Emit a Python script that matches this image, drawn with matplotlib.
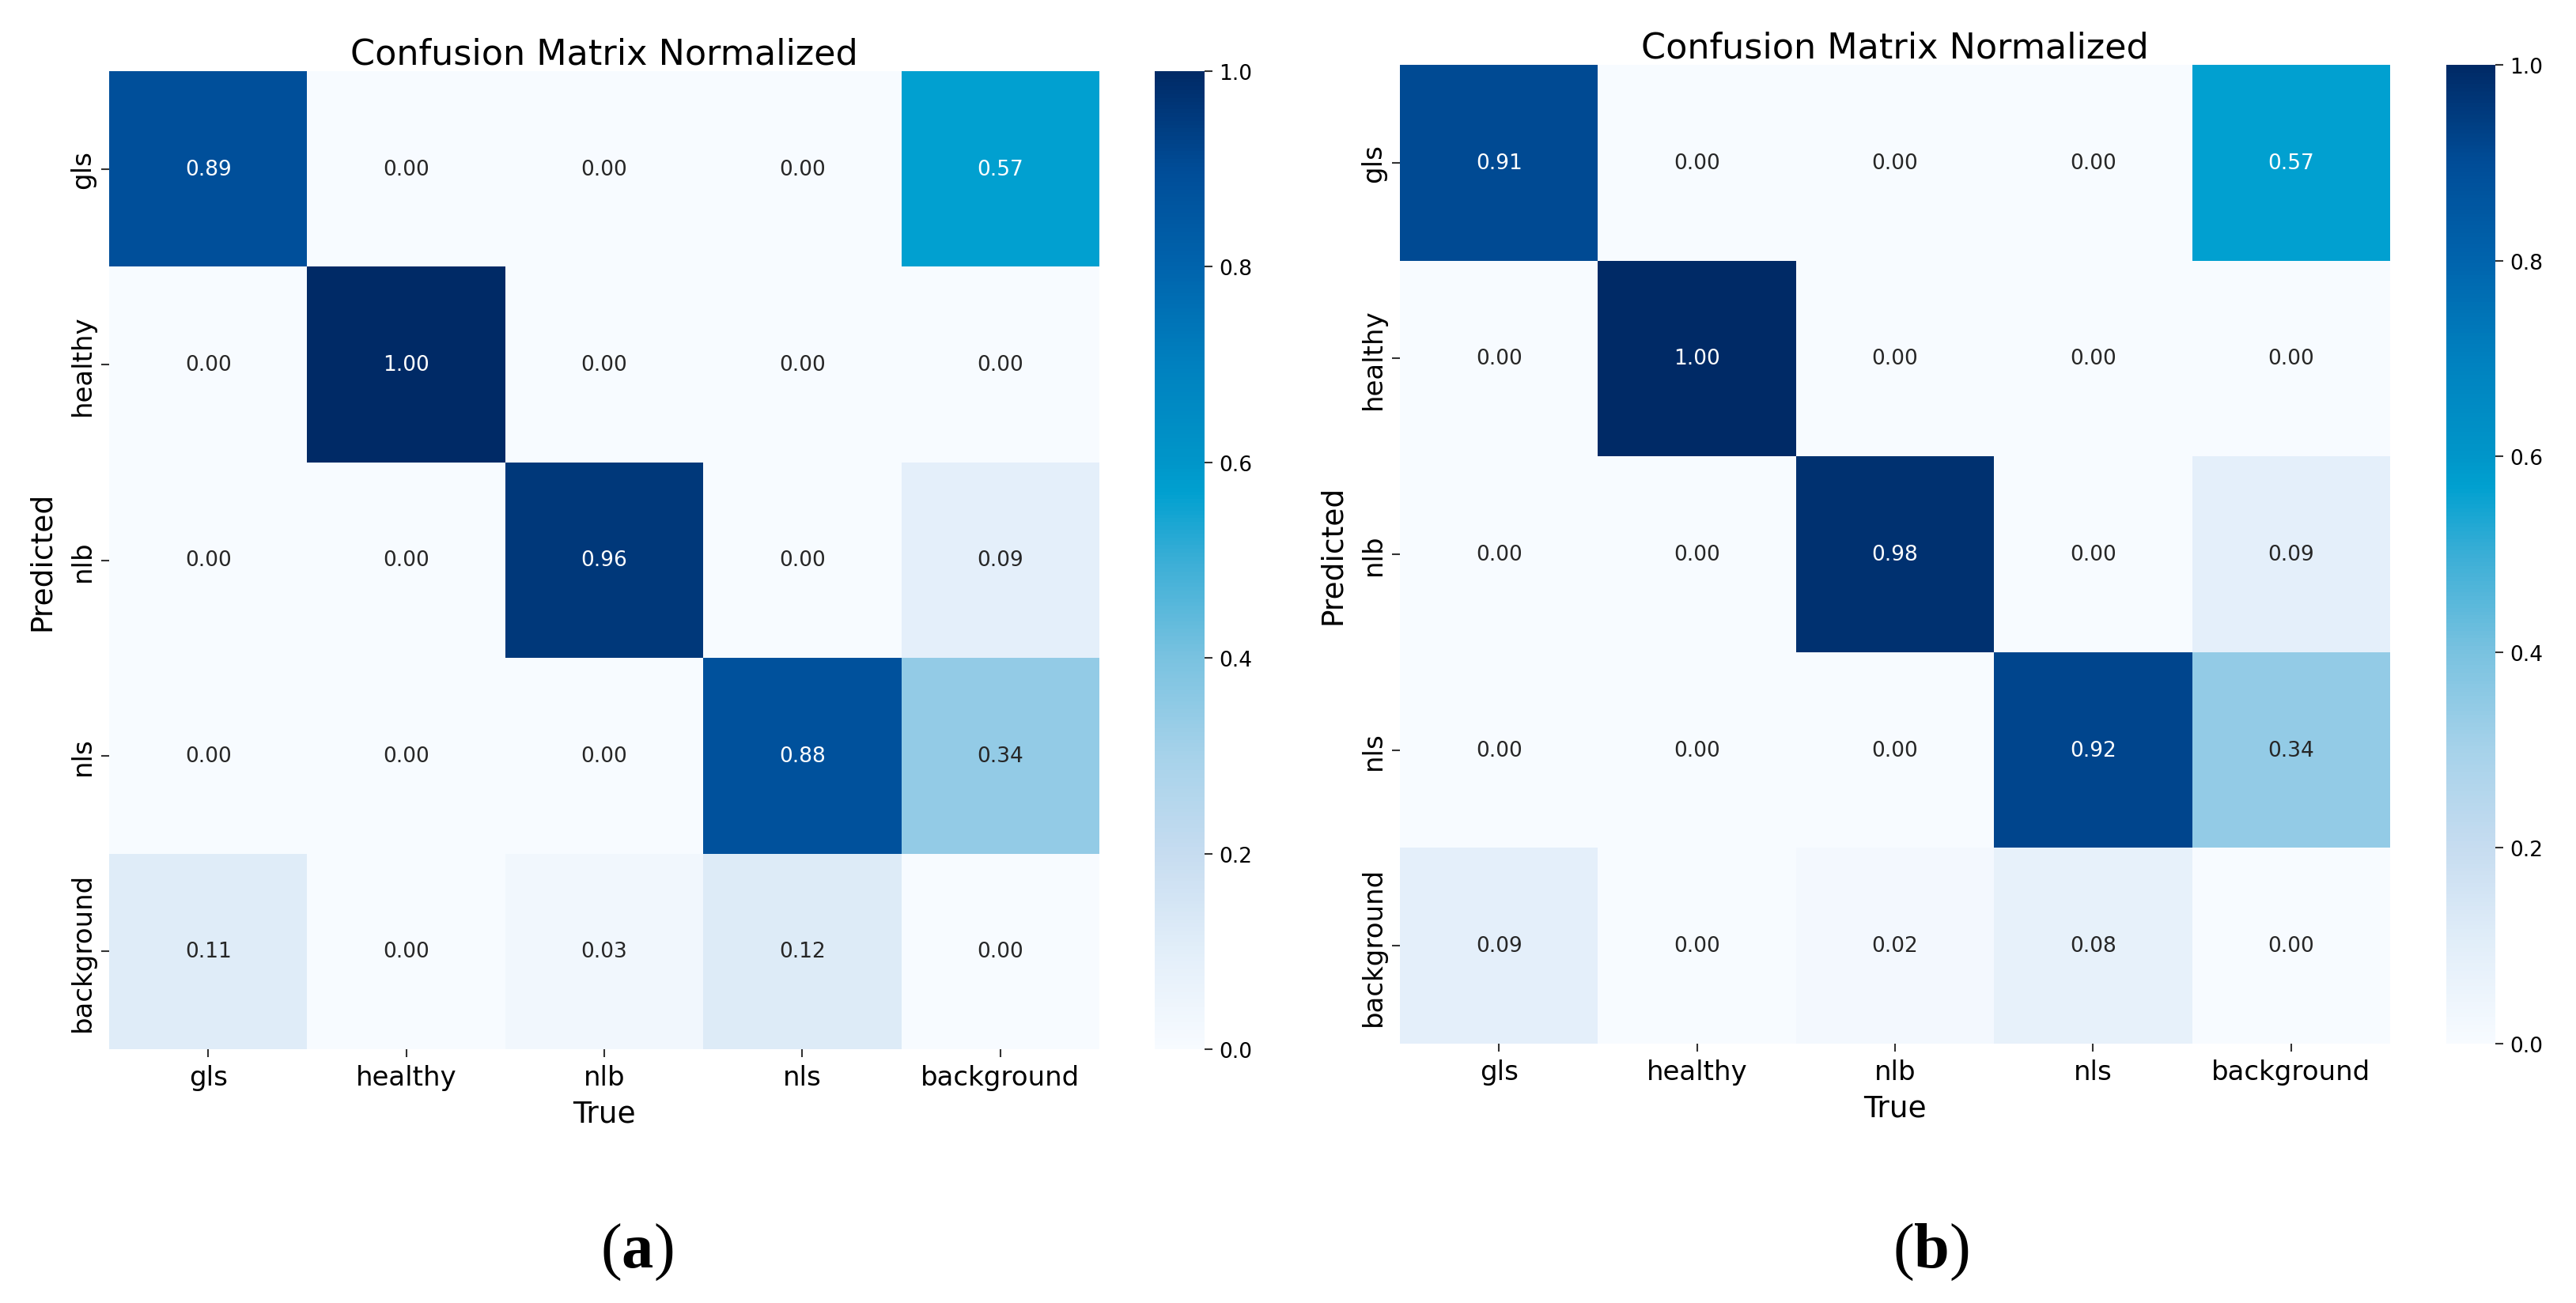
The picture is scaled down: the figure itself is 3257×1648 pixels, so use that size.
import numpy as np
import matplotlib
matplotlib.use("Agg")
import matplotlib.pyplot as plt
import seaborn as sns
from matplotlib.colors import LinearSegmentedColormap

plt.rcParams['font.family'] = ['DejaVu Sans']
plt.rcParams['mathtext.fontset'] = 'custom'
plt.rcParams['mathtext.rm'] = 'Liberation Serif'
plt.rcParams['mathtext.bf'] = 'Liberation Serif:bold'

labels = ["gls", "healthy", "nlb", "nls", "background"]

matrix_a = [
    [0.89, 0.00, 0.00, 0.00, 0.57],
    [0.00, 1.00, 0.00, 0.00, 0.00],
    [0.00, 0.00, 0.96, 0.00, 0.09],
    [0.00, 0.00, 0.00, 0.88, 0.34],
    [0.11, 0.00, 0.03, 0.12, 0.00],
]
matrix_b = [
    [0.91, 0.00, 0.00, 0.00, 0.57],
    [0.00, 1.00, 0.00, 0.00, 0.00],
    [0.00, 0.00, 0.98, 0.00, 0.09],
    [0.00, 0.00, 0.00, 0.92, 0.34],
    [0.09, 0.00, 0.02, 0.08, 0.00],
]
titles = ["Confusion Matrix Normalized", "Confusion Matrix Normalized"]
panel_tags = ["a", "b"]
cbar_ticks = [0.0, 0.2, 0.4, 0.6, 0.8, 1.0]

# saturated "Blues"-like colormap as in the reference
cmap_anchors = [
    (0.00, "#f7fbff"), (0.10, "#e2eef9"), (0.20, "#c6dcf0"), (0.30, "#a6d2ea"),
    (0.40, "#79c2e0"), (0.50, "#3aaed6"), (0.57, "#00a0d0"), (0.60, "#0096c9"),
    (0.70, "#0081bf"), (0.80, "#0064ad"), (0.90, "#004d98"), (1.00, "#002a66"),
]
cmap = LinearSegmentedColormap.from_list("blues_sat", cmap_anchors)

W, H = 3257, 1649
fig = plt.figure(figsize=(W / 100, H / 100), dpi=100)

def fx(px):
    return px / W

def fy(py):
    return 1 - py / H

layouts = [
    # heatmap (x0, x1, y_top, y_bottom), colorbar (x0, x1)
    ((138, 1390, 91, 1328), (1460, 1523)),
    ((1770, 3022, 83, 1321), (3093, 3155)),
]
tag_pos = [(805, 1584), (2441, 1584)]

for mat, title, (hm, cb), tag, tp in zip([matrix_a, matrix_b], titles, layouts, panel_tags, tag_pos):
    x0, x1, yt, yb = hm
    ax = fig.add_axes([fx(x0), fy(yb), fx(x1 - x0), (yb - yt) / H])
    cax = fig.add_axes([fx(cb[0]), fy(yb), fx(cb[1] - cb[0]), (yb - yt) / H])
    data = np.array(mat)
    sns.heatmap(data, ax=ax, cbar_ax=cax, cmap=cmap, vmin=0, vmax=1,
                annot=True, fmt=".2f", annot_kws={"size": 19},
                xticklabels=labels, yticklabels=labels, square=False)
    # annotation colours: white on dark cells, dark grey on light cells
    for t, v in zip(ax.texts, data.flatten()):
        t.set_color("white" if v > 0.5 else "#262626")
    ax.set_title(title, fontsize=32, pad=3)
    ax.set_xlabel("True", fontsize=27)
    ax.set_ylabel("Predicted", fontsize=27)
    ax.xaxis.set_label_coords(0.5, -0.051)
    ax.yaxis.set_label_coords(-0.054, 0.5)
    ax.tick_params(axis='x', labelsize=24.5, length=7, width=1.5, pad=7,
                   color="#333333", labelrotation=0)
    ax.tick_params(axis='y', labelsize=24.5, length=7, width=1.5, pad=5,
                   color="#333333")
    for lab in ax.get_yticklabels():
        lab.set_rotation(90)
        lab.set_va("center")
    cax.set_yticks(cbar_ticks)
    cax.set_yticklabels([f"{v:.1f}" for v in cbar_ticks])
    cax.tick_params(labelsize=19, length=7, width=1.5, pad=6, color="#333333")
    for s in cax.spines.values():
        s.set_visible(False)
    fig.text(fx(tp[0]), fy(tp[1]), f"(${{\\bf {tag}}}$)", ha="center", va="center",
             fontsize=58, family="Liberation Serif")

fig.savefig("out.png", dpi=100, facecolor="white")
